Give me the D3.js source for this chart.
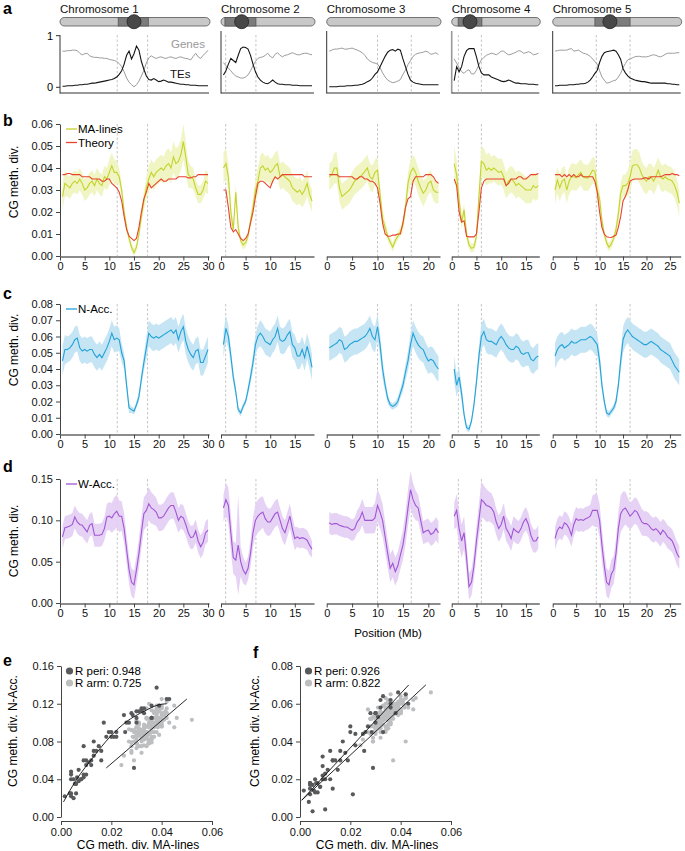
<!DOCTYPE html>
<html><head><meta charset="utf-8">
<script src="https://cdn.jsdelivr.net/npm/d3@7"></script>
<style>body{margin:0;background:#fff}svg{font-family:"Liberation Sans",Arial,Helvetica,sans-serif}</style>
</head><body><svg id="c" width="685" height="851"></svg>
<script>
// ---------------- DATA ----------------
const chromosomes = ["Chromosome 1","Chromosome 2","Chromosome 3","Chromosome 4","Chromosome 5"];
const chrLengths = [30.2, 18.9, 22.3, 17.7, 27.3];
const periStart = [11.6, 0.95, 10.0, 1.35, 9.3];
const periEnd   = [17.75, 7.1, 16.65, 6.0, 16.5];
const centromere = [15.0, 4.2, null, 3.7, 12.2];
const barDarkStart = [11.8, 0.8, null, 1.3, 9.0];
const barDarkEnd   = [17.9, 7.1, null, 6.1, 16.5];
const xTicks = [[0,5,10,15,20,25,30],[0,5,10,15],[0,5,10,15,20],[0,5,10,15],[0,5,10,15,20,25]];
const binSize = 0.5; // Mb, bins centred at 0.5, 1.0, 1.5 ...

const genes = [
 [.70,.70,.71,.71,.72,.72,.71,.66,.63,.65, .66,.61,.59,.58,.58,.57,.57,.56,.56,.54, .53,.52,.50,.46,.40,.30,.18,.10,.05,.01, .05,.12,.22,.33,.47,.57,.61,.58,.56,.58, .59,.57,.56,.58,.59,.57,.56,.58,.59,.57, .56,.55,.53,.60,.66,.59,.56,.62,.66,.72],
 [.48,.42,.37,.32,.26,.22,.20,.18,.18,.20, .24,.32,.42,.50,.56,.58,.59,.62,.66,.60, .57,.64,.67,.62,.59,.62,.63,.65,.67,.65, .63,.63,.65,.66,.66,.64,.63],
 [.70,.72,.74,.74,.75,.76,.74,.74,.75,.76, .74,.72,.70,.67,.62,.55,.51,.48,.47,.45, .38,.28,.20,.14,.11,.09,.10,.12,.15,.25, .33,.44,.52,.60,.64,.66,.67,.68,.70,.68, .64,.65,.67,.63],
 [.55,.47,.38,.30,.27,.32,.34,.26,.26,.33, .44,.53,.58,.62,.64,.66,.65,.63,.66,.70, .70,.66,.63,.64,.66,.68,.71,.70,.66,.67, .69,.67,.63,.64,.66],
 [.70,.71,.72,.72,.72,.72,.74,.75,.70,.71, .72,.69,.66,.65,.63,.60,.55,.50,.45,.32, .20,.14,.08,.09,.11,.13,.14,.20,.27,.38, .46,.53,.55,.57,.59,.60,.60,.59,.59,.59, .60,.62,.63,.62,.60,.59,.61,.64,.66,.66, .66,.66,.67,.67]
];
const tes = [
 [.02,.02,.03,.03,.03,.04,.04,.05,.05,.06, .06,.07,.08,.08,.09,.10,.11,.12,.13,.14, .15,.17,.20,.25,.32,.45,.62,.70,.55,.65, .80,.72,.50,.35,.22,.15,.14,.17,.14,.11, .12,.14,.12,.10,.10,.09,.08,.07,.06,.06, .05,.05,.04,.04,.04,.03,.03,.03,.03,.03],
 [.24,.32,.45,.56,.52,.48,.62,.75,.78,.77, .74,.62,.45,.30,.20,.14,.10,.08,.07,.10, .14,.10,.07,.06,.06,.05,.05,.05,.04,.04, .04,.03,.03,.03,.03,.03,.03],
 [.01,.01,.01,.01,.02,.02,.02,.03,.03,.03, .04,.04,.05,.06,.08,.11,.13,.18,.25,.30, .40,.50,.60,.68,.72,.73,.70,.74,.72,.55, .40,.25,.14,.10,.08,.07,.06,.05,.05,.05, .05,.05,.05,.05],
 [.13,.40,.30,.40,.60,.71,.75,.75,.75,.59, .40,.28,.24,.24,.24,.20,.18,.16,.14,.12, .11,.12,.14,.12,.10,.08,.08,.07,.07,.07, .06,.06,.06,.05,.05],
 [.03,.03,.04,.04,.04,.04,.05,.05,.05,.06, .06,.07,.07,.08,.10,.14,.20,.27,.33,.48, .60,.67,.69,.70,.71,.72,.70,.63,.54,.36, .28,.22,.18,.16,.14,.13,.12,.11,.11,.10, .09,.08,.08,.08,.08,.08,.08,.08,.07,.07, .06,.06,.05,.05]
];
const maLines = [
 [.027,.033,.032,.031,.033,.034,.033,.035,.033,.030, .031,.033,.034,.032,.035,.033,.032,.036,.035,.038, .041,.038,.038,.036,.030,.020,.013,.008,.004,.0015, .004,.010,.018,.025,.031,.035,.038,.036,.038,.039, .040,.039,.041,.042,.040,.045,.042,.043,.046,.052, .045,.037,.036,.035,.031,.028,.028,.030,.034,.033],
 [.040,.042,.036,.020,.012,.029,.013,.007,.005,.006, .009,.016,.022,.030,.034,.040,.041,.039,.040,.038, .039,.041,.042,.036,.037,.036,.035,.034,.031,.030, .029,.030,.028,.030,.033,.028,.025],
 [.036,.037,.040,.040,.031,.027,.028,.029,.030,.032, .034,.035,.036,.037,.0385,.040,.036,.035,.038,.039, .028,.017,.013,.009,.0064,.004,.007,.009,.011,.014, .022,.033,.038,.040,.038,.034,.031,.0285,.030,.033, .034,.030,.029,.029],
 [.042,.037,.0255,.015,.021,.010,.005,.0035,.004,.009, .027,.043,.042,.039,.040,.039,.040,.039,.038,.0385, .036,.032,.034,.035,.034,.032,.033,.032,.031,.030, .030,.030,.032,.031,.032],
 [.030,.0345,.031,.034,.035,.030,.034,.036,.036,.0355, .037,.038,.036,.0355,.0355,.037,.039,.0385,.030,.026, .016,.010,.006,.004,.0055,.008,.012,.019,.0285,.032, .032,.033,.036,.041,.0415,.0415,.040,.037,.035,.034, .036,.036,.034,.036,.039,.036,.035,.036,.035,.0347, .034,.032,.029,.024]
];
const maBand = [
 [.006,.006,.005,.005,.005,.005,.005,.005,.005,.005, .005,.005,.005,.005,.005,.005,.005,.005,.005,.006, .006,.006,.005,.004,.003,.003,.002,.002,.002,.002, .002,.002,.003,.004,.005,.006,.006,.006,.006,.006, .006,.006,.007,.007,.007,.007,.007,.007,.007,.008, .007,.006,.005,.005,.004,.004,.004,.004,.005,.005],
 [.007,.007,.006,.004,.003,.004,.003,.002,.002,.002, .002,.003,.004,.005,.006,.006,.006,.006,.006,.006, .006,.006,.006,.006,.006,.006,.006,.006,.006,.006, .006,.006,.006,.006,.006,.005,.005],
 [.006,.006,.007,.007,.006,.006,.006,.006,.006,.006, .006,.006,.006,.006,.006,.006,.006,.006,.006,.006, .005,.004,.003,.002,.002,.002,.002,.002,.002,.003, .004,.005,.006,.006,.006,.006,.006,.006,.005,.005, .005,.005,.005,.005],
 [.008,.007,.005,.003,.003,.003,.002,.002,.002,.003, .004,.007,.007,.007,.007,.006,.006,.006,.006,.006, .006,.006,.006,.006,.006,.006,.006,.006,.006,.006, .006,.006,.006,.006,.006],
 [.006,.006,.006,.006,.006,.006,.006,.006,.006,.006, .006,.006,.006,.006,.006,.006,.006,.006,.005,.004, .003,.002,.002,.002,.002,.002,.003,.004,.005,.005, .005,.006,.007,.007,.007,.007,.007,.006,.006,.006, .006,.006,.006,.006,.006,.006,.006,.006,.006,.006, .006,.006,.006,.006]
];
const theory = [
 [.037,.037,.0375,.0375,.037,.037,.037,.037,.036,.036, .036,.036,.035,.035,.035,.035,.034,.034,.035,.035, .033,.032,.031,.029,.025,.018,.012,.009,.008,.007, .008,.013,.020,.026,.029,.033,.031,.032,.033,.034, .035,.034,.034,.035,.035,.035,.035,.036,.036,.036, .036,.0355,.0355,.036,.036,.037,.037,.037,.037,.037],
 [.030,.030,.022,.013,.011,.012,.010,.008,.007,.008, .010,.015,.020,.027,.033,.034,.034,.033,.032,.031, .034,.036,.035,.036,.037,.037,.037,.037,.037,.037, .037,.037,.037,.036,.036,.036,.036],
 [.037,.037,.037,.037,.036,.036,.036,.036,.036,.036, .035,.035,.036,.036,.035,.035,.034,.034,.033,.031, .024,.015,.010,.009,.009,.0095,.0095,.010,.010,.015, .022,.026,.027,.034,.036,.036,.036,.036,.037,.037, .037,.036,.034,.033],
 [.035,.032,.020,.0155,.016,.009,.0087,.0087,.0087,.010, .020,.031,.034,.035,.035,.035,.035,.035,.035,.035, .035,.032,.033,.035,.035,.035,.036,.036,.035,.035, .036,.037,.037,.037,.0375],
 [.037,.037,.037,.036,.037,.036,.037,.036,.037,.036, .036,.037,.036,.036,.036,.036,.036,.034,.029,.020, .013,.010,.0087,.0085,.0084,.009,.0095,.013,.018,.025, .027,.030,.034,.0347,.035,.035,.035,.035,.0355,.0355, .035,.036,.036,.036,.036,.036,.0365,.037,.037,.037, .0375,.037,.037,.0365]
];
const nAcc = [
 [.045,.052,.052,.053,.055,.058,.059,.053,.051,.052, .051,.052,.052,.049,.047,.049,.047,.050,.053,.057, .062,.058,.059,.058,.050,.045,.030,.016,.015,.014, .018,.023,.034,.044,.053,.062,.060,.059,.060,.059, .060,.061,.062,.063,.064,.062,.064,.058,.063,.066, .057,.052,.049,.047,.051,.052,.044,.044,.048,.052],
 [.055,.065,.060,.048,.035,.026,.015,.013,.017,.020, .027,.035,.044,.055,.060,.062,.060,.057,.056,.055, .058,.060,.065,.058,.057,.058,.061,.063,.055,.053, .048,.048,.052,.047,.054,.048,.041],
 [.053,.054,.055,.056,.058,.057,.052,.053,.055,.056, .057,.057,.058,.059,.060,.062,.065,.060,.058,.066, .055,.040,.030,.022,.018,.017,.018,.020,.025,.030, .038,.045,.055,.062,.058,.055,.053,.052,.048,.045, .046,.045,.042,.040],
 [.040,.030,.035,.025,.012,.004,.003,.008,.018,.032, .048,.060,.063,.058,.057,.057,.056,.055,.058,.060, .058,.055,.053,.052,.052,.054,.053,.050,.049,.050, .050,.046,.045,.047,.048],
 [.048,.052,.054,.055,.053,.054,.055,.057,.056,.056, .057,.058,.058,.058,.059,.060,.059,.057,.055,.045, .030,.020,.013,.012,.014,.016,.020,.030,.045,.058, .062,.064,.062,.060,.059,.058,.057,.056,.055,.055, .056,.057,.056,.055,.054,.052,.051,.050,.049,.048, .045,.042,.040,.038]
];
const nBand = [
 [.009,.009,.008,.008,.008,.008,.008,.008,.008,.008, .008,.008,.008,.008,.008,.008,.008,.008,.008,.008, .008,.008,.008,.007,.006,.005,.004,.003,.002,.002, .002,.003,.004,.005,.007,.008,.008,.008,.008,.008, .008,.008,.008,.008,.008,.008,.008,.008,.008,.008, .008,.008,.008,.008,.008,.008,.008,.008,.008,.008],
 [.008,.008,.007,.005,.004,.003,.002,.002,.002,.002, .003,.004,.005,.006,.007,.008,.008,.008,.008,.008, .008,.008,.008,.008,.008,.008,.008,.008,.008,.008, .008,.008,.008,.008,.008,.008,.008],
 [.008,.008,.008,.008,.008,.008,.008,.008,.008,.008, .008,.008,.008,.008,.008,.008,.008,.008,.008,.008, .007,.006,.004,.003,.002,.002,.002,.003,.003,.004, .005,.006,.007,.008,.008,.008,.008,.008,.008,.008, .008,.008,.008,.008],
 [.008,.007,.006,.005,.003,.002,.002,.002,.003,.004, .006,.008,.008,.008,.008,.008,.008,.008,.008,.008, .008,.008,.008,.008,.008,.008,.008,.008,.008,.008, .008,.008,.008,.008,.008],
 [.008,.008,.008,.008,.008,.008,.008,.008,.008,.008, .008,.008,.008,.008,.008,.008,.008,.008,.007,.006, .004,.003,.002,.002,.002,.002,.003,.004,.006,.008, .008,.008,.008,.008,.008,.008,.008,.008,.008,.008, .008,.008,.008,.008,.008,.008,.008,.008,.008,.008, .008,.008,.008,.008]
];
const wAcc = [
 [.080,.091,.092,.093,.095,.104,.098,.095,.094,.090, .086,.094,.096,.082,.082,.082,.083,.090,.104,.105, .103,.108,.111,.105,.105,.090,.065,.040,.025,.022, .040,.060,.085,.108,.112,.120,.115,.113,.110,.103, .103,.105,.110,.115,.118,.118,.110,.100,.105,.103, .095,.085,.079,.080,.087,.075,.068,.073,.085,.088],
 [.115,.125,.118,.085,.055,.052,.070,.050,.040,.035, .042,.060,.085,.100,.105,.108,.110,.102,.098,.098, .103,.108,.110,.100,.090,.085,.095,.105,.090,.078, .080,.078,.079,.078,.076,.070,.065],
 [.097,.095,.096,.096,.094,.093,.092,.092,.090,.088, .090,.098,.102,.110,.100,.100,.100,.100,.103,.118, .110,.100,.080,.060,.042,.048,.038,.045,.058,.070, .090,.115,.137,.125,.118,.115,.100,.085,.087,.088, .083,.085,.090,.085],
 [.105,.112,.090,.075,.085,.055,.020,.025,.045,.075, .100,.125,.122,.118,.117,.115,.110,.098,.090,.095, .105,.090,.085,.078,.090,.087,.085,.090,.098,.102, .095,.082,.075,.075,.080],
 [.078,.088,.092,.090,.097,.095,.090,.082,.095,.102, .100,.101,.100,.102,.103,.105,.112,.112,.112,.100, .070,.045,.025,.022,.035,.040,.060,.090,.108,.113, .115,.110,.105,.108,.112,.110,.104,.098,.096,.096, .094,.090,.088,.090,.087,.083,.088,.085,.080,.078, .075,.068,.060,.055]
];
const wBand = [
 [.014,.014,.014,.014,.014,.014,.014,.014,.014,.014, .014,.014,.014,.014,.014,.014,.014,.014,.016,.017, .018,.020,.020,.019,.018,.018,.017,.017,.017,.017, .017,.018,.019,.020,.020,.020,.019,.018,.017,.016, .016,.016,.016,.016,.016,.016,.016,.015,.015,.015, .014,.014,.014,.014,.014,.014,.014,.014,.014,.014],
 [.016,.020,.022,.022,.020,.020,.060,.018,.016,.014, .014,.016,.018,.020,.020,.020,.019,.018,.017,.016, .016,.016,.016,.015,.015,.015,.015,.015,.014,.014, .012,.012,.012,.012,.012,.012,.010],
 [.013,.013,.013,.013,.013,.013,.013,.013,.013,.013, .013,.014,.015,.016,.016,.016,.016,.016,.018,.020, .020,.020,.018,.017,.017,.017,.017,.017,.017,.018, .020,.022,.022,.020,.018,.016,.015,.014,.014,.014, .014,.014,.014,.014],
 [.016,.020,.022,.020,.020,.018,.016,.016,.016,.018, .020,.022,.020,.020,.018,.018,.016,.016,.016,.016, .016,.015,.015,.015,.015,.015,.014,.014,.014,.014, .014,.014,.014,.014,.014],
 [.014,.014,.014,.014,.014,.014,.014,.014,.014,.014, .014,.014,.014,.014,.014,.014,.018,.020,.020,.020, .020,.018,.017,.017,.017,.017,.018,.020,.022,.022, .020,.018,.016,.016,.016,.016,.016,.016,.015,.015, .015,.015,.015,.015,.015,.015,.014,.014,.014,.014, .014,.014,.014,.014]
];
// fitted lines in scatter panels
const eFitPeriX = [0.001,0.006,0.013,0.0195,0.026,0.033,0.039,0.042];
const eFitPeriY = [0.016,0.039,0.064,0.085,0.101,0.112,0.119,0.120];
const eFitArmX = [0.018,0.050];
const eFitArmY = [0.052,0.125];
const fFitPeriX = [0.0007,0.0432];
const fFitPeriY = [0.0089,0.070];
const fFitArmX = [0.0007,0.050];
const fFitArmY = [0.0089,0.070];
const rLabelsE = ["R peri: 0.948","R arm: 0.725"];
const rLabelsF = ["R peri: 0.926","R arm: 0.822"];

// ---------------- DRAW ----------------
const svg = d3.select("#c");
const chrX0 = [60,221,326.7,451.7,552.7], chrX1 = [209,314,440,539.3,680.7];
const xs = chrLengths.map((L,i)=>d3.scaleLinear().domain([0,L]).range([chrX0[i],chrX1[i]]));
const rows = arr => arr.map((v,i)=>({p:(i+1)*binSize, v, i}));
const FONT = 11;
const col = {ma:"#c3d32a", maBand:"#eef4bd", th:"#e8432c", n:"#21a3d8", nBand:"#bfe1f3",
             w:"#a256d4", wBand:"#e2cdf4", genes:"#9c9c9c", tes:"#151515", dash:"#b8b8b8",
             dark:"#58595b", light:"#bdbec0"};

function letter(t,x,y){svg.append("text").attr("x",x).attr("y",y).attr("font-size",16).attr("font-weight","bold").text(t);}

// panel a
letter("a",3,14);
const yA = d3.scaleLinear().domain([0,1]).range([87.3,35.7]);
chromosomes.forEach((name,i)=>{
  const x=xs[i];
  svg.append("text").attr("x",chrX0[i]).attr("y",13).attr("font-size",FONT+0.5).attr("fill","#111").text(name);
  const g=svg.append("g");
  g.append("rect").attr("x",chrX0[i]).attr("y",17.5).attr("width",chrX1[i]-chrX0[i]+1).attr("height",8.5)
   .attr("rx",4.3).attr("fill","#c8c8c8").attr("stroke","#555").attr("stroke-width",0.8);
  if(barDarkStart[i]!==null){
    g.append("rect").attr("x",x(barDarkStart[i])).attr("y",17.5).attr("width",x(barDarkEnd[i])-x(barDarkStart[i])).attr("height",8.5)
     .attr("fill","#7c7c7c").attr("stroke","#555").attr("stroke-width",0.8);
  }
  if(centromere[i]!==null){
    g.append("circle").attr("cx",x(centromere[i])).attr("cy",21.7).attr("r",7).attr("fill","#484848").attr("stroke","#222").attr("stroke-width",0.8);
  }
  [periStart[i],periEnd[i]].forEach(p=>svg.append("line").attr("x1",x(p)).attr("x2",x(p)).attr("y1",35).attr("y2",93)
     .attr("stroke",col.dash).attr("stroke-width",0.8).attr("stroke-dasharray","2.5,2"));
  svg.append("line").attr("x1",chrX0[i]).attr("x2",chrX0[i]).attr("y1",i===0?35:31).attr("y2",93.5)
     .attr("stroke",i===3?"#999":"#333").attr("stroke-width",i===3?1.6:1);
  svg.append("line").attr("x1",chrX0[i]).attr("x2",chrX1[i]).attr("y1",93).attr("y2",93).attr("stroke","#333").attr("stroke-width",1);
  const ln=d3.line().x(d=>x(d.p)).y(d=>yA(d.v));
  svg.append("path").attr("d",ln(rows(genes[i]))).attr("fill","none").attr("stroke",col.genes).attr("stroke-width",1);
  svg.append("path").attr("d",ln(rows(tes[i]))).attr("fill","none").attr("stroke",col.tes).attr("stroke-width",1.1);
});
[1,0].forEach(v=>{
  svg.append("line").attr("x1",56).attr("x2",60).attr("y1",yA(v)).attr("y2",yA(v)).attr("stroke","#333");
  svg.append("text").attr("x",53).attr("y",yA(v)+4).attr("text-anchor","end").attr("font-size",FONT).text(v);
});
svg.append("text").attr("x",171).attr("y",48).attr("font-size",FONT+0.5).attr("fill","#999").text("Genes");
svg.append("text").attr("x",170).attr("y",78).attr("font-size",FONT+0.5).attr("fill","#111").text("TEs");

// profile panels
function profilePanel(opt){
  const y=d3.scaleLinear().domain([0,opt.max]).range([opt.bottom,opt.top]);
  letter(opt.letter,3,opt.letterY);
  chromosomes.forEach((_,i)=>{
    const x=xs[i];
    [periStart[i],periEnd[i]].forEach(p=>svg.append("line").attr("x1",x(p)).attr("x2",x(p)).attr("y1",opt.top).attr("y2",opt.bottom)
       .attr("stroke",col.dash).attr("stroke-width",0.8).attr("stroke-dasharray","2.5,2"));
    opt.series.forEach(s=>{
      if(s.band){
        const data=rows(s.data[i]).map(d=>({p:d.p,v:d.v,h:s.band[i][d.i]||0}));
        const ar=d3.area().x(d=>x(d.p)).y0(d=>y(Math.max(0,d.v-d.h))).y1(d=>y(d.v+d.h));
        svg.append("path").attr("d",ar(data)).attr("fill",s.bandColor).attr("opacity",0.9);
      }
    });
    opt.series.forEach(s=>{
      const ln=d3.line().x(d=>x(d.p)).y(d=>y(d.v));
      svg.append("path").attr("d",ln(rows(s.data[i]))).attr("fill","none").attr("stroke",s.color).attr("stroke-width",1.1);
    });
    const ax=svg.append("g").attr("transform",`translate(0,${opt.bottom+0.5})`)
      .call(d3.axisBottom(x).tickValues(xTicks[i]).tickFormat(d3.format("d")).tickSize(4).tickSizeOuter(0).tickPadding(2));
    ax.select(".domain").attr("stroke","#666").attr("stroke-width",1.3);
    ax.selectAll(".tick line").attr("stroke","#444");
    ax.selectAll("text").attr("font-size",FONT).attr("fill","#111").attr("font-family",null);
  });
  const ay=svg.append("g").attr("transform",`translate(${chrX0[0]},0)`)
    .call(d3.axisLeft(y).tickValues(opt.yTicks).tickFormat(d3.format(".2f")).tickSize(4).tickSizeOuter(0).tickPadding(3));
  ay.select(".domain").attr("stroke","#444");
  ay.selectAll(".tick line").attr("stroke","#444");
  ay.selectAll("text").attr("font-size",FONT).attr("fill","#111").attr("font-family",null);
  svg.append("text").attr("transform",`translate(18,${opt.labelY}) rotate(-90)`).attr("text-anchor","middle")
    .attr("font-size",FONT+1).text("CG meth. div.");
  opt.legend.forEach((l,k)=>{
    const ly=opt.top+5+k*13.5;
    svg.append("line").attr("x1",66).attr("x2",77).attr("y1",ly).attr("y2",ly).attr("stroke",l.color).attr("stroke-width",1.3);
    svg.append("text").attr("x",78).attr("y",ly+4).attr("font-size",FONT+0.5).text(l.label);
  });
}
profilePanel({letter:"b",letterY:126,top:124,bottom:256,max:0.06,yTicks:[0,.01,.02,.03,.04,.05,.06],labelY:182,
  series:[{data:maLines,band:maBand,bandColor:col.maBand,color:col.ma},{data:theory,color:col.th}],
  legend:[{label:"MA-lines",color:col.ma},{label:"Theory",color:col.th}]});
profilePanel({letter:"c",letterY:299,top:304,bottom:434,max:0.08,yTicks:[0,.01,.02,.03,.04,.05,.06,.07,.08],labelY:350,
  series:[{data:nAcc,band:nBand,bandColor:col.nBand,color:col.n}],
  legend:[{label:"N-Acc.",color:col.n}]});
profilePanel({letter:"d",letterY:472,top:479,bottom:603,max:0.15,yTicks:[0,.05,.10,.15],labelY:541,
  series:[{data:wAcc,band:wBand,bandColor:col.wBand,color:col.w}],
  legend:[{label:"W-Acc.",color:col.w}]});
svg.append("text").attr("x",388).attr("y",637).attr("text-anchor","middle").attr("font-size",FONT+0.5).text("Position (Mb)");

// scatter panels
function isPeri(i,p){return p>=periStart[i] && p<=periEnd[i];}
function scatterPanel(opt){
  const x=d3.scaleLinear().domain([0,0.06]).range([opt.x0,opt.x0+151]);
  const y=d3.scaleLinear().domain([0,opt.max]).range([817,666]);
  letter(opt.letter,opt.lx,opt.ly);
  const pts=[];
  chromosomes.forEach((_,i)=>maLines[i].forEach((v,k)=>{
    const yv=opt.yData[i][k]; if(yv===undefined) return;
    pts.push({x:v,y:yv,peri:isPeri(i,(k+1)*binSize)});
  }));
  svg.append("g").selectAll("circle").data(pts.filter(d=>!d.peri)).join("circle")
    .attr("cx",d=>x(d.x)).attr("cy",d=>y(d.y)).attr("r",2.1).attr("fill",col.light);
  svg.append("g").selectAll("circle").data(pts.filter(d=>d.peri)).join("circle")
    .attr("cx",d=>x(d.x)).attr("cy",d=>y(d.y)).attr("r",2.1).attr("fill",col.dark);
  const ln=d3.line().x(d=>x(d[0])).y(d=>y(d[1])).curve(d3.curveMonotoneX);
  opt.fits.forEach(f=>svg.append("path").attr("d",ln(d3.zip(f[0],f[1]))).attr("fill","none").attr("stroke","#111").attr("stroke-width",0.9));
  const ax=svg.append("g").attr("transform","translate(0,821)")
    .call(d3.axisBottom(x).tickValues([0,.02,.04,.06]).tickFormat(d3.format(".2f")).tickSize(4).tickSizeOuter(0).tickPadding(3));
  const ay=svg.append("g").attr("transform",`translate(${opt.x0},0)`)
    .call(d3.axisLeft(y).tickValues(opt.yTicks).tickFormat(d3.format(".2f")).tickSize(4).tickSizeOuter(0).tickPadding(3));
  [ax,ay].forEach(a=>{a.select(".domain").attr("stroke","#444");a.selectAll(".tick line").attr("stroke","#444");
    a.selectAll("text").attr("font-size",FONT).attr("fill","#111").attr("font-family",null);});
  svg.append("text").attr("x",opt.x0+77).attr("y",849).attr("text-anchor","middle").attr("font-size",FONT+1).text("CG meth. div. MA-lines");
  svg.append("text").attr("transform",`translate(${opt.ylx},731) rotate(-90)`).attr("text-anchor","middle").attr("font-size",FONT+1).text("CG meth. div. N-Acc.");
  opt.labels.forEach((t,k)=>{
    svg.append("circle").attr("cx",opt.x0+8.5).attr("cy",671+k*12).attr("r",3.6).attr("fill",k===0?col.dark:col.light);
    svg.append("text").attr("x",opt.x0+14).attr("y",675+k*12).attr("font-size",FONT+0.5).text(t);
  });
}
scatterPanel({letter:"e",lx:3,ly:666,x0:61,max:0.16,yTicks:[0,.04,.08,.12,.16],yData:wAcc,ylx:17,
  fits:[[eFitPeriX,eFitPeriY],[eFitArmX,eFitArmY]],labels:rLabelsE});
scatterPanel({letter:"f",lx:253,ly:658,x0:300,max:0.08,yTicks:[0,.02,.04,.06,.08],yData:nAcc,ylx:259,
  fits:[[fFitPeriX,fFitPeriY],[fFitArmX,fFitArmY]],labels:rLabelsF});
</script></body></html>
